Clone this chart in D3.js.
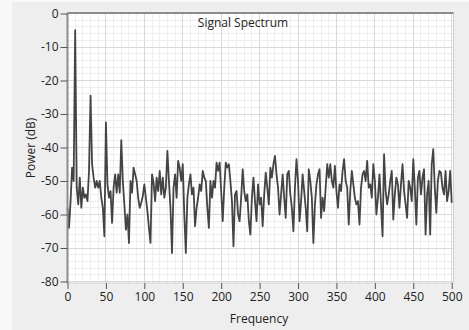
<!DOCTYPE html>
<html>
<head>
<meta charset="utf-8">
<script src="https://cdn.jsdelivr.net/npm/d3@7"></script>
<style>
  html, body { margin: 0; padding: 0; background: #f9f9f9; }
  svg { display: block; font-family: "Open Sans", sans-serif; }
</style>
</head>
<body>
<svg id="chart" width="469" height="330"></svg>
<script>
// spectrum values, one every 2 Hz from 0 to 500
const freqStep = 2;
const power = [
  -58, -64, -56, -46, -50, -5, -52, -57, -49, -58,
  -52, -55, -54, -56, -47, -24.5, -45, -49, -52, -50,
  -52, -50, -55, -58, -66.5, -32.5, -51, -55, -53, -62.5,
  -52, -48, -53.5, -48, -53.5, -37.8, -50, -57, -64.5, -60,
  -68.5, -50, -53.5, -46, -48, -50, -55, -58, -56.5, -54.5,
  -51, -55, -59, -64, -68.5, -48, -50.5, -56, -49, -53,
  -47, -54, -49, -55, -52, -41, -50, -58, -71.5, -52,
  -48, -55, -44, -46, -50, -45, -60, -71.5, -55, -51,
  -48, -54, -52, -63.5, -58, -55, -51, -53, -47, -49,
  -50, -58, -64, -50, -55, -50, -52, -44.5, -47, -44.5,
  -53, -62, -52, -44.5, -46, -45, -50, -56, -69.5, -54,
  -53, -60, -62, -55, -46.5, -53, -56, -54, -62, -66,
  -55, -49, -56, -62, -51, -57, -55, -63.5, -54, -47.5,
  -52, -57, -46, -49, -45, -42.5, -48, -52, -60, -54,
  -48, -55, -61, -48, -47, -54, -58, -65, -52, -43.5,
  -50, -62, -56, -48, -53, -58, -65, -46.5, -50, -55,
  -68.5, -57, -51, -48, -46.5, -61, -55, -59, -52, -45,
  -49, -45, -50, -52, -45.5, -53, -58, -51, -53, -47,
  -43.5, -50, -52, -63, -53, -47, -51, -55, -57, -56,
  -63, -52, -48, -47, -50, -44, -52, -51, -55, -45,
  -50, -60, -55, -48, -57, -66.5, -42, -53, -57, -54,
  -50, -47, -61.5, -54, -49, -51, -58, -51, -45, -53,
  -57, -61, -50, -52, -56, -43.5, -52, -63, -49, -47,
  -54, -49, -46.5, -66, -54, -50, -66, -45, -40.5, -52,
  -59.5, -50, -47, -47.5, -52, -54, -47, -56, -53, -47,
  -56.5
];
const xTicks = [0, 50, 100, 150, 200, 250, 300, 350, 400, 450, 500];
const yTicks = [0, -10, -20, -30, -40, -50, -60, -70, -80];
const title = "Signal Spectrum";
const xLabel = "Frequency";
const yLabel = "Power (dB)";

const W = 469, H = 330;
const svg = d3.select("#chart");

// grey panel behind everything
svg.append("rect")
  .attr("x", 12).attr("y", 2)
  .attr("width", W - 12).attr("height", H - 2)
  .attr("fill", "#eeeeee");

const x = d3.scaleLinear().domain([0, 500]).range([67.5, 451.7]);
const y = d3.scaleLinear().domain([-80, 0]).range([281.5, 13.5]);

const plot = { x0: 67.5, x1: 453.5, y0: 13, y1: 283 };

svg.append("rect")
  .attr("x", plot.x0).attr("y", plot.y0)
  .attr("width", plot.x1 - plot.x0).attr("height", plot.y1 - plot.y0)
  .attr("fill", "#ffffff");

// minor grid
const minorX = d3.range(0, 501, 10).filter(d => d % 50 !== 0);
const minorY = d3.range(-80, 1, 2).filter(d => d % 10 !== 0);
const grid = svg.append("g").attr("shape-rendering", "crispEdges");
grid.selectAll(".mx").data(minorX).join("line")
  .attr("x1", d => x(d)).attr("x2", d => x(d))
  .attr("y1", plot.y0).attr("y2", plot.y1)
  .attr("stroke", "#eeeeee");
grid.selectAll(".my").data(minorY).join("line")
  .attr("x1", plot.x0).attr("x2", plot.x1)
  .attr("y1", d => y(d)).attr("y2", d => y(d))
  .attr("stroke", "#eeeeee");
// major grid
grid.selectAll(".gx").data(xTicks).join("line")
  .attr("x1", d => x(d)).attr("x2", d => x(d))
  .attr("y1", plot.y0).attr("y2", plot.y1)
  .attr("stroke", "#d9d9d9");
grid.selectAll(".gy").data(yTicks).join("line")
  .attr("x1", plot.x0).attr("x2", plot.x1)
  .attr("y1", d => y(d)).attr("y2", d => y(d))
  .attr("stroke", "#d9d9d9");

// right and bottom edges of the plot area
svg.append("line")
  .attr("x1", plot.x1).attr("x2", plot.x1).attr("y1", plot.y0).attr("y2", plot.y1)
  .attr("stroke", "#d0d0d0");
svg.append("line")
  .attr("x1", plot.x0).attr("x2", plot.x1).attr("y1", plot.y1).attr("y2", plot.y1)
  .attr("stroke", "#d0d0d0");

// the spectrum
const data = power.map((v, i) => ({ f: i * freqStep, v }));
svg.append("path")
  .datum(data)
  .attr("fill", "none")
  .attr("stroke", "#444444")
  .attr("stroke-width", 1.8)
  .attr("stroke-linejoin", "round")
  .attr("d", d3.line().x(d => x(d.f)).y(d => y(d.v)));

// top border
svg.append("line")
  .attr("x1", plot.x0).attr("x2", plot.x1).attr("y1", plot.y0).attr("y2", plot.y0)
  .attr("stroke", "#8c8c8c").attr("stroke-width", 2);

// axes
const yAxis = svg.append("g")
  .attr("transform", `translate(${plot.x0},0)`)
  .call(d3.axisLeft(y).tickValues(yTicks).tickSize(7).tickPadding(2).tickFormat(d => String(d)));
yAxis.select(".domain").attr("stroke", "#8c8c8c").attr("stroke-width", 2)
  .attr("d", `M0,${plot.y0}V${plot.y1}`);

const xAxis = svg.append("g")
  .attr("transform", `translate(0,${plot.y1})`)
  .call(d3.axisBottom(x).tickValues(xTicks).tickSize(6).tickPadding(3).tickFormat(d => String(d)));
xAxis.select(".domain").remove();

svg.selectAll(".tick line").attr("stroke", "#555555");
svg.selectAll(".tick text")
  .attr("fill", "#222222")
  .style("font-size", "12px")
  .style("font-family", "'Open Sans', sans-serif");

// labels
svg.append("text")
  .attr("x", 243).attr("y", 27)
  .attr("text-anchor", "middle")
  .attr("fill", "#222222")
  .style("font-size", "12px")
  .text(title);

svg.append("text")
  .attr("x", 259).attr("y", 323)
  .attr("text-anchor", "middle")
  .attr("fill", "#222222")
  .style("font-size", "12px")
  .text(xLabel);

svg.append("text")
  .attr("transform", "translate(35,148) rotate(-90)")
  .attr("text-anchor", "middle")
  .attr("fill", "#222222")
  .style("font-size", "12px")
  .text(yLabel);
</script>
</body>
</html>
